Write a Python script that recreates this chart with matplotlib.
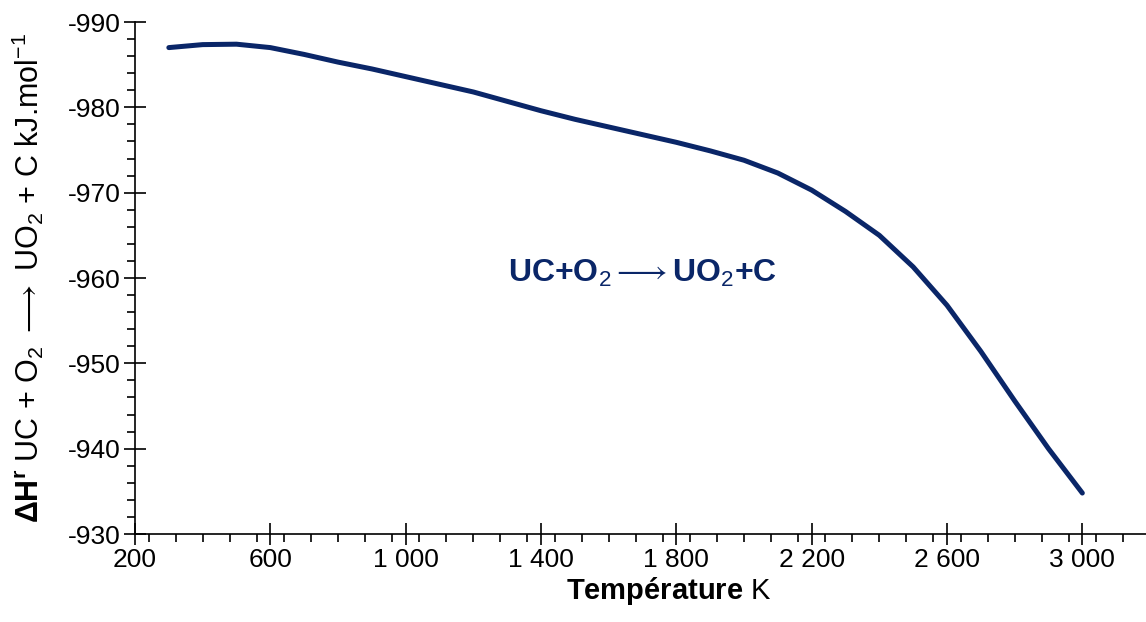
import matplotlib
matplotlib.use('Agg')
from matplotlib import pyplot as plt
from matplotlib.ticker import MultipleLocator, FixedLocator

plt.rcParams['font.family'] = ['Liberation Sans', 'DejaVu Sans']
plt.rcParams['mathtext.fontset'] = 'custom'
plt.rcParams['mathtext.rm'] = 'Liberation Sans'
plt.rcParams['mathtext.it'] = 'Liberation Sans:italic'
plt.rcParams['mathtext.bf'] = 'Liberation Sans:bold'
plt.rcParams['axes.unicode_minus'] = False

# temperature (K) and reaction enthalpy (kJ/mol)
temperature = [300, 400, 500, 600, 700, 800, 900, 1000, 1100, 1200, 1300, 1400,
               1500, 1600, 1700, 1800, 1900, 2000, 2100, 2200, 2300, 2400, 2500,
               2600, 2700, 2800, 2900, 3000]
delta_h = [-987.0, -987.35, -987.4, -987.0, -986.2, -985.3, -984.5, -983.6,
           -982.7, -981.8, -980.7, -979.6, -978.6, -977.7, -976.8, -975.9,
           -974.9, -973.8, -972.3, -970.3, -967.8, -965.0, -961.3, -956.8,
           -951.4, -945.6, -940.0, -934.8]

x_ticks = [200, 600, 1000, 1400, 1800, 2200, 2600, 3000]
x_tick_labels = ['200', '600', '1 000', '1 400', '1 800', '2 200', '2 600', '3 000']
y_ticks = [-990, -980, -970, -960, -950, -940, -930]

line_color = '#0a2668'

fig = plt.figure(figsize=(11.46, 6.22), dpi=100)
ax = fig.add_axes([135 / 1146, 88 / 622, 1015 / 1146, 512 / 622])

ax.plot(temperature, delta_h, color=line_color, lw=3.6, solid_capstyle='round')

ax.set_xlim(200, 3200)
ax.set_ylim(-930, -990)

ax.xaxis.set_major_locator(FixedLocator(x_ticks))
ax.set_xticklabels(x_tick_labels)
ax.xaxis.set_minor_locator(MultipleLocator(80))
ax.yaxis.set_major_locator(FixedLocator(y_ticks))
ax.yaxis.set_minor_locator(MultipleLocator(2))

ax.tick_params(which='major', direction='inout', length=16, width=1.2, labelsize=19, pad=2)
ax.tick_params(which='minor', direction='out', length=6, width=1.2)

for side in ['top', 'right']:
    ax.spines[side].set_visible(False)
for side in ['left', 'bottom']:
    ax.spines[side].set_linewidth(1.2)

ax.set_xlabel(r'$\mathbf{Température}$ K', fontsize=21)
ax.xaxis.set_label_coords((669 - 135) / 1015, -0.08)
ax.set_ylabel(r'$\mathbf{\Delta H^r}$ UC + O$_2$ $\longrightarrow$ UO$_2$ + C kJ.mol$^{-1}$',
              fontsize=22)
ax.yaxis.set_label_coords(-0.088, 0.5)

ax.text(1700, -960.5, r'UC+O$_2$$\longrightarrow$UO$_2$+C', color=line_color,
        fontsize=23, fontweight='bold', ha='center', va='center')

fig.savefig('out.png', dpi=100)
